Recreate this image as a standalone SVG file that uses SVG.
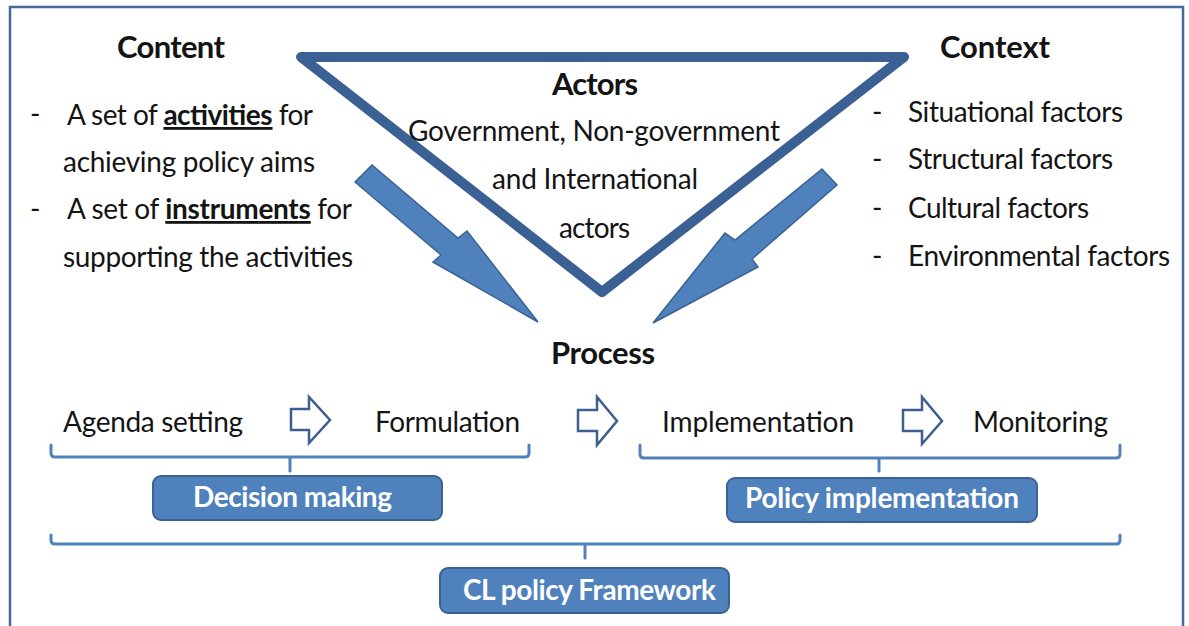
<svg xmlns="http://www.w3.org/2000/svg" width="1189" height="626" viewBox="0 0 1189 626">
<style>
.t{font-family:Lato,"Open Sans","Liberation Sans",sans-serif;fill:#141414}
.r{font-size:28px}
.h{font-size:31px;font-weight:bold}
.bx{font-family:Lato,"Open Sans","Liberation Sans",sans-serif;font-size:28px;font-weight:bold;fill:#ffffff}
.box{fill:#4f81bd;stroke:#3a6394;stroke-width:2}
.blk{fill:#4f81bd;stroke:#3a6394;stroke-width:1.5;stroke-linejoin:miter}
.hol{fill:#ffffff;stroke:#3d5f8e;stroke-width:2.5;stroke-linejoin:miter}
.brk{fill:none;stroke:#4f81bd;stroke-width:3;stroke-linecap:round}
</style>
<rect x="0" y="0" width="1189" height="626" fill="#ffffff"/>
<rect id="frame" x="10" y="7" width="1173" height="640" fill="#ffffff" stroke="#46699a" stroke-width="2.5"/>

<g id="actors">
<polygon points="301,57 904,57 602,292" fill="#ffffff" stroke="#3b6194" stroke-width="10" stroke-linejoin="round"/>
<text class="t h" x="552" y="95" textLength="86">Actors</text>
<text class="t r" x="408" y="141" textLength="372">Government, Non-government</text>
<text class="t r" x="492" y="189" textLength="206">and International</text>
<text class="t r" x="559" y="238" textLength="71">actors</text>
</g>

<g id="content">
<text class="t h" x="117" y="58" textLength="108">Content</text>
<text class="t r" x="30" y="124">-</text>
<text class="t r" x="67" y="125" textLength="246">A set of <tspan font-weight="bold" text-decoration="underline">activities</tspan> for</text>
<text class="t r" x="63" y="172" textLength="252">achieving policy aims</text>
<text class="t r" x="30" y="219">-</text>
<text class="t r" x="67" y="219" textLength="285">A set of <tspan font-weight="bold" text-decoration="underline">instruments</tspan> for</text>
<text class="t r" x="63" y="267" textLength="290">supporting the activities</text>
</g>

<g id="context">
<text class="t h" x="940" y="58" textLength="110">Context</text>
<text class="t r" x="872" y="122">-</text>
<text class="t r" x="908" y="122" textLength="215">Situational factors</text>
<text class="t r" x="872" y="169">-</text>
<text class="t r" x="908" y="169" textLength="205">Structural factors</text>
<text class="t r" x="872" y="218">-</text>
<text class="t r" x="908" y="218" textLength="181">Cultural factors</text>
<text class="t r" x="872" y="266">-</text>
<text class="t r" x="908" y="266" textLength="262">Environmental factors</text>
</g>

<g id="process">
<text class="t h" x="551" y="364" textLength="104">Process</text>
</g>

<g id="steps">
<text class="t r" x="63" y="432" textLength="180">Agenda setting</text>
<text class="t r" x="375" y="432" textLength="145">Formulation</text>
<text class="t r" x="662" y="432" textLength="192">Implementation</text>
<text class="t r" x="973" y="432" textLength="135">Monitoring</text>
</g>

<g id="decision-making">
<rect class="box" x="153" y="476" width="289" height="44" rx="8"/>
<text class="bx" x="193" y="507" textLength="199">Decision making</text>
</g>

<g id="policy-implementation">
<rect class="box" x="727" y="478" width="310" height="44" rx="8"/>
<text class="bx" x="745" y="508" textLength="274">Policy implementation</text>
</g>

<g id="cl-policy-framework">
<rect class="box" x="440" y="568" width="289" height="45" rx="8"/>
<text class="bx" x="463" y="600" textLength="253">CL policy Framework</text>
</g>

<g id="connectors">
<polygon class="blk" points="355,182 372,165 458,238 467,231 538,322 433,262 441,255"/>
<polygon class="blk" points="822,169 837,185 752,259 758,267 653,323 725,233 735,240"/>
<polygon class="hol" points="291,409 309,409 309,397 330,420 309,443 309,430 291,430"/>
<polygon class="hol" points="578,410 597,410 597,397 617,421 597,445 597,431 578,431"/>
<polygon class="hol" points="903,410 922,410 922,397 942,421 922,444 922,431 903,431"/>
<path class="brk" d="M51,445 V453 Q51,457 55,457 H525 Q529,457 529,453 V445 M290,457 V471"/>
<path class="brk" d="M640,445 V454 Q640,458 644,458 H1116 Q1120,458 1120,454 V445 M879,458 V471"/>
<path class="brk" d="M51,535 V540 Q51,544 55,544 H1116 Q1120,544 1120,540 V535 M585,544 V558"/>
</g>
</svg>
